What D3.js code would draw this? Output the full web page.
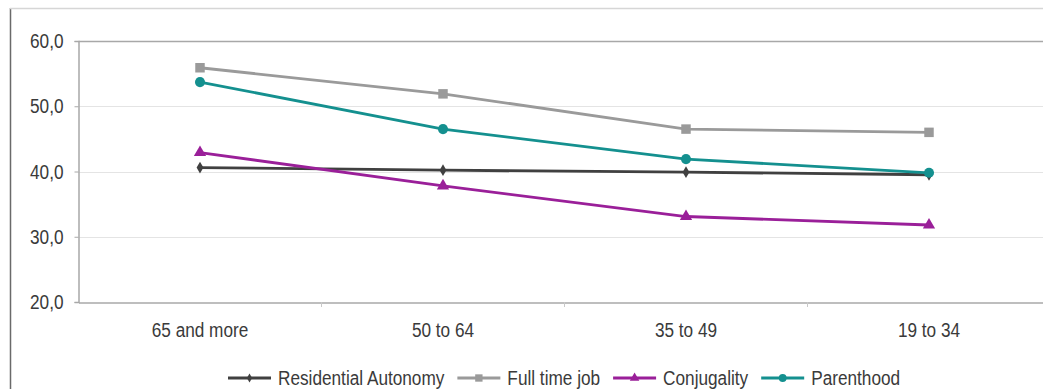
<!DOCTYPE html>
<html><head><meta charset="utf-8">
<script src="https://cdn.jsdelivr.net/npm/d3@7"></script>
<style>body{margin:0;background:#fff}svg{display:block}text{font-family:"Liberation Sans",Arial,sans-serif}</style>
</head><body>
<svg id="c" width="1043" height="389"></svg>
<script>
const categories = ["65 and more", "50 to 64", "35 to 49", "19 to 34"];
const seriesNames = ["Residential Autonomy", "Full time job", "Conjugality", "Parenthood"];
const residential = [40.6, 40.2, 39.9, 39.5];
const fullTime = [55.9, 51.9, 46.5, 46.0];
const conjugality = [42.9, 37.8, 33.1, 31.8];
const parenthood = [53.7, 46.5, 41.9, 39.8];
const yTicks = [20, 30, 40, 50, 60];

const series = [
  {name: seriesNames[0], values: residential, color: "#404040", symbol: d3.symbolDiamond, size: 40},
  {name: seriesNames[1], values: fullTime, color: "#9a9a9a", symbol: d3.symbolSquare, size: 90},
  {name: seriesNames[2], values: conjugality, color: "#9a1f99", symbol: d3.symbolTriangle, size: 65},
  {name: seriesNames[3], values: parenthood, color: "#14908f", symbol: d3.symbolCircle, size: 80}
];

const FS = 20;
const SQUEEZE = 0.86;
function narrow(sel) {
  sel.each(function() {
    const len = this.getComputedTextLength();
    this.__w = len * SQUEEZE;
    d3.select(this).attr("textLength", this.__w).attr("lengthAdjust", "spacingAndGlyphs");
  });
}
const svg = d3.select("#c");
const m = {left: 78.5, top: 41, right: -7.5, bottom: 87};
const W = 1043, H = 389;
const x = d3.scaleBand().domain(categories).range([m.left, W - m.right]);
const y = d3.scaleLinear().domain([20, 60]).range([302, 41]);

// outer frame
svg.append("line").attr("x1", 10.5).attr("x2", 10.5).attr("y1", 8).attr("y2", H).attr("stroke", "#6a6a6a").attr("stroke-width", 1.5);
svg.append("line").attr("x1", 10).attr("x2", W).attr("y1", 8.5).attr("y2", 8.5).attr("stroke", "#d6d6d6").attr("stroke-width", 1.5);

// gridlines
svg.append("g").selectAll("line").data(yTicks.filter(t => t > 20 && t < 60)).join("line")
  .attr("x1", m.left).attr("x2", W).attr("y1", d => Math.round(y(d)) + 0.5).attr("y2", d => Math.round(y(d)) + 0.5)
  .attr("stroke", "#e4e4e4").attr("stroke-width", 1.2);
// top border of plot
svg.append("line").attr("x1", m.left).attr("x2", W).attr("y1", y(60) + 0.5).attr("y2", y(60) + 0.5).attr("stroke", "#a8a8a8").attr("stroke-width", 1.5);

// y axis
const ya = svg.append("g").attr("transform", `translate(${m.left},0)`)
  .call(d3.axisLeft(y).tickValues(yTicks).tickSize(4).tickFormat(d => d3.format(".1f")(d).replace(".", ",")));
ya.select(".domain").attr("stroke", "#a8a8a8").attr("stroke-width", 1.5);
ya.selectAll(".tick line").attr("stroke", "#a8a8a8");
ya.selectAll("text").attr("font-size", FS).attr("fill", "#3a3a3a").attr("x", -15).attr("dy", "0.33em").call(narrow);

// x axis
const xa = svg.append("g").attr("transform", `translate(0,${y(20) + 0.5})`)
  .call(d3.axisBottom(x).tickSize(0));
xa.select(".domain").attr("stroke", "#a8a8a8").attr("stroke-width", 1.5);
xa.selectAll("text").attr("font-size", FS).attr("fill", "#3a3a3a").attr("y", 20).attr("dy", "0.71em").call(narrow);
// band boundary ticks
svg.append("g").selectAll("line").data(categories.slice(1)).join("line")
  .attr("x1", d => x(d)).attr("x2", d => x(d)).attr("y1", y(20)).attr("y2", y(20) + 5)
  .attr("stroke", "#c8c8c8");

const cx = d => x(d) + x.bandwidth() / 2;
const line = d3.line().x((v, i) => cx(categories[i])).y(v => y(v));

const g = svg.append("g");
series.forEach(s => {
  g.append("path").attr("d", line(s.values)).attr("fill", "none").attr("stroke", s.color).attr("stroke-width", 2.8);
  g.selectAll(null).data(s.values).join("path")
    .attr("transform", (v, i) => `translate(${cx(categories[i])},${y(v)})`)
    .attr("d", d3.symbol(s.symbol, s.size)).attr("fill", s.color);
});

// legend
const legend = svg.append("g").attr("transform", "translate(0,378)");
let lx = 228;
series.forEach(s => {
  const lg = legend.append("g").attr("transform", `translate(${lx},0)`);
  lg.append("line").attr("x1", 0).attr("x2", 43).attr("y1", 0).attr("y2", 0).attr("stroke", s.color).attr("stroke-width", 3);
  lg.append("path").attr("transform", "translate(21.5,0)").attr("d", d3.symbol(s.symbol, s.size * 0.6)).attr("fill", s.color);
  const t = lg.append("text").attr("x", 50).attr("y", 0).attr("dy", "0.35em").attr("font-size", FS).attr("fill", "#3a3a3a").text(s.name).call(narrow);
  lx += 50 + t.node().__w + 13;
});
</script>
</body></html>
